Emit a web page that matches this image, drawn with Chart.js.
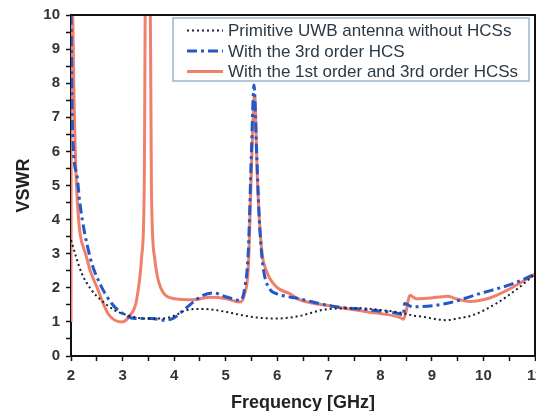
<!DOCTYPE html>
<html>
<head>
<meta charset="utf-8">
<script src="https://cdn.jsdelivr.net/npm/chart.js@4/dist/chart.umd.min.js"></script>
<style>
  html, body { margin: 0; padding: 0; background: #fff; }
  #wrap { width: 536px; height: 411px; }
</style>
</head>
<body>
<div id="wrap"><canvas id="chart" width="536" height="411"></canvas></div>
<script>
// values (GHz / VSWR)
const seriesNames = [
    'Primitive UWB antenna without HCSs',
    'With the 3rd order HCS',
    'With the 1st order and 3rd order HCSs'
];

const primFreq = [2.0, 2.1, 2.21, 2.4, 2.59, 2.85, 3.11, 3.43, 3.76, 4.02, 4.21, 4.45, 4.69, 5.02, 5.34, 5.66, 6.0, 6.42, 7.0, 7.59, 8.0, 8.43, 8.63, 8.82, 9.28, 9.5, 9.8, 10.25, 10.7, 11.0];
const primVswr = [3.4, 2.9, 2.42, 1.93, 1.63, 1.34, 1.19, 1.1, 1.1, 1.19, 1.33, 1.38, 1.37, 1.29, 1.19, 1.12, 1.1, 1.17, 1.38, 1.4, 1.35, 1.26, 1.19, 1.15, 1.05, 1.1, 1.2, 1.54, 2.02, 2.4];

const hcs3Freq = [2.0, 2.03, 2.12, 2.17, 2.37, 2.53, 2.79, 3.01, 3.24, 3.56, 3.82, 4.0, 4.18, 4.37, 4.56, 4.76, 5.02, 5.28, 5.37, 5.44, 5.5, 5.55, 5.6, 5.66, 5.78, 6.05, 6.42, 7.07, 7.72, 8.36, 8.45, 8.47, 8.63, 9.28, 9.93, 10.57, 11.0];
const hcs3Vswr = [10.0, 6.6, 5.25, 4.5, 2.9, 2.22, 1.54, 1.24, 1.1, 1.1, 1.05, 1.12, 1.34, 1.58, 1.78, 1.85, 1.73, 1.63, 2.0, 3.1, 6.0, 7.95, 6.0, 3.78, 2.2, 1.8, 1.68, 1.46, 1.36, 1.24, 1.2, 1.54, 1.44, 1.54, 1.83, 2.12, 2.4];

const hcs13Freq = [2.0, 2.005, 2.03, 2.06, 2.11, 2.3, 2.53, 2.72, 2.98, 3.15, 3.27, 3.37, 3.42, 3.45, 3.53, 3.56, 3.62, 3.74, 4.02, 4.37, 4.69, 5.02, 5.28, 5.37, 5.44, 5.5, 5.56, 5.62, 5.7, 5.79, 5.99, 6.24, 6.44, 7.07, 7.72, 8.36, 8.45, 8.5, 8.57, 8.7, 9.15, 9.3, 9.47, 9.73, 10.12, 10.57, 11.0];
const hcs13Vswr = [1.0, 10.5, 10.2, 7.5, 4.9, 2.9, 1.92, 1.24, 1.0, 1.2, 1.63, 2.9, 4.86, 12, 12, 4.86, 2.9, 2.0, 1.68, 1.65, 1.72, 1.68, 1.58, 1.83, 2.61, 5.5, 7.65, 5.0, 3.1, 2.5, 2.02, 1.83, 1.65, 1.46, 1.3, 1.14, 1.08, 1.3, 1.78, 1.68, 1.73, 1.75, 1.68, 1.6, 1.7, 2.02, 2.4];

const xTicks = [2, 3, 4, 5, 6, 7, 8, 9, 10, 11];
const yTicks = [0, 1, 2, 3, 4, 5, 6, 7, 8, 9, 10];

function toPoints(xs, ys) {
    return xs.map((x, i) => ({ x: x, y: ys[i] }));
}

const axisFont = { family: "'Liberation Sans', Arial, sans-serif", size: 15, weight: 'bold' };
const titleFont = { family: "'Liberation Sans', Arial, sans-serif", size: 18, weight: 'bold', lineHeight: 1 };

// frame on top/right plus the boxed legend inside the plot
const framePlugin = {
    id: 'frame',
    afterDraw(chart) {
        const { ctx, chartArea: a } = chart;
        ctx.save();
        ctx.strokeStyle = '#111';
        ctx.lineWidth = 2;
        ctx.beginPath();
        ctx.moveTo(a.left, a.top);
        ctx.lineTo(a.right, a.top);
        ctx.lineTo(a.right, a.bottom);
        ctx.stroke();

        // legend
        const bx = 173, by = 18, bw = 356, bh = 63;
        ctx.fillStyle = '#fff';
        ctx.fillRect(bx, by, bw, bh);
        ctx.strokeStyle = '#9fb4c4';
        ctx.lineWidth = 1.5;
        ctx.strokeRect(bx, by, bw, bh);
        ctx.font = "17px 'Liberation Sans', Arial, sans-serif";
        ctx.textBaseline = 'middle';
        chart.data.datasets.forEach((ds, i) => {
            const y = by + 12.5 + i * 20.5;
            ctx.strokeStyle = ds.borderColor;
            ctx.lineWidth = ds.borderWidth;
            ctx.setLineDash(ds.borderDash || []);
            ctx.beginPath();
            ctx.moveTo(187, y);
            ctx.lineTo(223, y);
            ctx.stroke();
            ctx.setLineDash([]);
            ctx.fillStyle = '#2b3945';
            ctx.fillText(ds.label, 228, y + 1);
        });
        ctx.restore();
    }
};

new Chart(document.getElementById('chart'), {
    type: 'line',
    data: {
        datasets: [{
            label: seriesNames[0],
            data: toPoints(primFreq, primVswr),
            borderColor: '#1a2030',
            borderWidth: 2,
            borderDash: [2, 3],
            pointRadius: 0,
            cubicInterpolationMode: 'monotone'
        }, {
            label: seriesNames[1],
            data: toPoints(hcs3Freq, hcs3Vswr),
            borderColor: '#2457c8',
            borderWidth: 3,
            borderDash: [10, 4, 3, 4],
            pointRadius: 0,
            cubicInterpolationMode: 'monotone'
        }, {
            label: seriesNames[2],
            data: toPoints(hcs13Freq, hcs13Vswr),
            borderColor: '#f0806c',
            borderWidth: 3,
            pointRadius: 0,
            cubicInterpolationMode: 'monotone'
        }]
    },
    options: {
        responsive: false,
        animation: false,
        layout: { padding: { top: 14, right: 1, left: 0, bottom: 0 } },
        plugins: {
            legend: { display: false },
            tooltip: { enabled: false }
        },
        scales: {
            x: {
                type: 'linear',
                min: 2,
                max: 11,
                afterFit: (s) => {
                    s.height = 55;
                    // last label runs off the edge, as in the original
                    s.paddingLeft = 0;
                    s.paddingRight = 0;
                },
                afterBuildTicks: (s) => {
                    const t = [];
                    for (let v = 2; v <= 11.001; v += 0.5) t.push({ value: v });
                    s.ticks = t;
                },
                border: { color: '#111', width: 2 },
                grid: { drawOnChartArea: false, color: '#111', tickLength: 5, tickWidth: 1.5 },
                ticks: {
                    color: '#333',
                    font: axisFont,
                    padding: 6,
                    maxRotation: 0,
                    autoSkip: false,
                    callback: (v) => xTicks.includes(v) ? String(v) : ''
                },
                title: {
                    display: true,
                    text: 'Frequency [GHz]',
                    color: '#222',
                    font: titleFont,
                    padding: { top: 0, bottom: -1 }
                }
            },
            y: {
                min: 0,
                max: 10,
                afterFit: (s) => { s.width = 71; },
                afterBuildTicks: (s) => {
                    const t = [];
                    for (let v = 0; v <= 10.001; v += 0.5) t.push({ value: v });
                    s.ticks = t;
                },
                border: { color: '#111', width: 2 },
                grid: { drawOnChartArea: false, color: '#111', tickLength: 5, tickWidth: 1.5 },
                ticks: {
                    color: '#333',
                    font: axisFont,
                    padding: 6,
                    autoSkip: false,
                    callback: (v) => yTicks.includes(v) ? String(v) : ''
                },
                title: {
                    display: true,
                    text: 'VSWR',
                    color: '#222',
                    font: titleFont,
                    padding: { top: 15, bottom: 0 }
                }
            }
        }
    },
    plugins: [framePlugin]
});
</script>
</body>
</html>
